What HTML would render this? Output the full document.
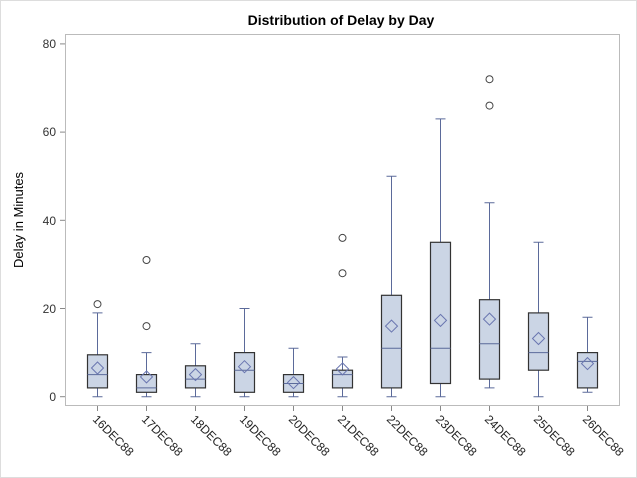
<!DOCTYPE html>
<html><head><style>body{margin:0;background:#fff}svg{display:block}</style></head><body>
<svg width="637" height="478" xmlns="http://www.w3.org/2000/svg" font-family="Liberation Sans, sans-serif">
<defs><style>.w{stroke:#5b6a9a;fill:none}.b{fill:#cbd5e5;stroke:#333;stroke-width:1.2}.m{fill:none;stroke:#6a76b0}.o{fill:none;stroke:#444}.t{stroke:#888}</style></defs>
<rect x="0.5" y="0.5" width="636" height="477" fill="#fff" stroke="#ddd"/>
<text x="341" y="25" text-anchor="middle" font-size="14" font-weight="bold">Distribution of Delay by Day</text>
<rect x="65.5" y="34.5" width="554" height="371" fill="none" stroke="#bbb"/>
<g font-size="12" fill="#333" text-anchor="end">
<text x="56" y="401">0</text><text x="56" y="313">20</text><text x="56" y="225">40</text><text x="56" y="136">60</text><text x="56" y="48">80</text>
</g>
<g stroke="#888"><line x1="60" x2="65" y1="396.7" y2="396.7"/><line x1="60" x2="65" y1="308.5" y2="308.5"/><line x1="60" x2="65" y1="220.3" y2="220.3"/><line x1="60" x2="65" y1="132.1" y2="132.1"/><line x1="60" x2="65" y1="43.9" y2="43.9"/></g>
<text transform="translate(23,220) rotate(-90)" text-anchor="middle" font-size="13">Delay in Minutes</text>

<!-- 16 -->
<g transform="translate(97.5,0)"><path class="w" d="M0 396.7V387.9M0 312.9V354.8M-5 396.7H5M-5 312.9H5"/><rect class="b" x="-10" y="354.8" width="20" height="33.1"/><path class="w" d="M-10 374.6H10"/><path class="m" d="M0 362L6 368L0 374L-6 368Z"/><circle class="o" cx="0" cy="304.1" r="3.5"/></g>
<!-- 17 -->
<g transform="translate(146.5,0)"><path class="w" d="M0 396.7V392.3M0 352.6V374.6M-5 396.7H5M-5 352.6H5"/><rect class="b" x="-10" y="374.6" width="20" height="17.7"/><path class="w" d="M-10 387.9H10"/><path class="m" d="M0 370.9L6 376.9L0 382.9L-6 376.9Z"/><circle class="o" cx="0" cy="326.1" r="3.5"/><circle class="o" cx="0" cy="260" r="3.5"/></g>
<!-- 18 -->
<g transform="translate(195.5,0)"><path class="w" d="M0 396.7V387.9M0 343.8V365.8M-5 396.7H5M-5 343.8H5"/><rect class="b" x="-10" y="365.8" width="20" height="22.1"/><path class="w" d="M-10 379.1H10"/><path class="m" d="M0 368.6L6 374.6L0 380.6L-6 374.6Z"/></g>
<!-- 19 -->
<g transform="translate(244.5,0)"><path class="w" d="M0 396.7V392.3M0 308.5V352.6M-5 396.7H5M-5 308.5H5"/><rect class="b" x="-10" y="352.6" width="20" height="39.7"/><path class="w" d="M-10 370.2H10"/><path class="m" d="M0 360.7L6 366.7L0 372.7L-6 366.7Z"/></g>
<!-- 20 -->
<g transform="translate(293.5,0)"><path class="w" d="M0 396.7V392.3M0 348.2V374.6M-5 396.7H5M-5 348.2H5"/><rect class="b" x="-10" y="374.6" width="20" height="17.7"/><path class="w" d="M-10 383.5H10"/><path class="m" d="M0 376.6L6 382.6L0 388.6L-6 382.6Z"/></g>
<!-- 21 -->
<g transform="translate(342.5,0)"><path class="w" d="M0 396.7V387.9M0 357V370.2M-5 396.7H5M-5 357H5"/><rect class="b" x="-10" y="370.2" width="20" height="17.7"/><path class="w" d="M-10 374.6H10"/><path class="m" d="M0 362.9L6 368.9L0 374.9L-6 368.9Z"/><circle class="o" cx="0" cy="273.2" r="3.5"/><circle class="o" cx="0" cy="237.9" r="3.5"/></g>
<!-- 22 -->
<g transform="translate(391.5,0)"><path class="w" d="M0 396.7V387.9M0 176.2V295.3M-5 396.7H5M-5 176.2H5"/><rect class="b" x="-10" y="295.3" width="20" height="92.6"/><path class="w" d="M-10 348.2H10"/><path class="m" d="M0 320.1L6 326.1L0 332.1L-6 326.1Z"/></g>
<!-- 23 -->
<g transform="translate(440.5,0)"><path class="w" d="M0 396.7V383.5M0 118.9V242.3M-5 396.7H5M-5 118.9H5"/><rect class="b" x="-10" y="242.3" width="20" height="141.2"/><path class="w" d="M-10 348.2H10"/><path class="m" d="M0 314.4L6 320.4L0 326.4L-6 320.4Z"/></g>
<!-- 24 -->
<g transform="translate(489.5,0)"><path class="w" d="M0 387.9V379.1M0 202.7V299.7M-5 387.9H5M-5 202.7H5"/><rect class="b" x="-10" y="299.7" width="20" height="79.4"/><path class="w" d="M-10 343.8H10"/><path class="m" d="M0 313.1L6 319.1L0 325.1L-6 319.1Z"/><circle class="o" cx="0" cy="105.6" r="3.5"/><circle class="o" cx="0" cy="79.2" r="3.5"/></g>
<!-- 25 -->
<g transform="translate(538.5,0)"><path class="w" d="M0 396.7V370.2M0 242.3V312.9M-5 396.7H5M-5 242.3H5"/><rect class="b" x="-10" y="312.9" width="20" height="57.3"/><path class="w" d="M-10 352.6H10"/><path class="m" d="M0 332.5L6 338.5L0 344.5L-6 338.5Z"/></g>
<!-- 26 -->
<g transform="translate(587.5,0)"><path class="w" d="M0 392.3V387.9M0 317.3V352.6M-5 392.3H5M-5 317.3H5"/><rect class="b" x="-10" y="352.6" width="20" height="35.3"/><path class="w" d="M-10 361.4H10"/><path class="m" d="M0 357.6L6 363.6L0 369.6L-6 363.6Z"/></g>

<g class="t"><path d="M97.5 406V411M146.5 406V411M195.5 406V411M244.5 406V411M293.5 406V411M342.5 406V411M391.5 406V411M440.5 406V411M489.5 406V411M538.5 406V411M587.5 406V411"/></g>
<g font-size="12" fill="#222">
<text transform="translate(92,420) rotate(45)">16DEC88</text>
<text transform="translate(141,420) rotate(45)">17DEC88</text>
<text transform="translate(190,420) rotate(45)">18DEC88</text>
<text transform="translate(239,420) rotate(45)">19DEC88</text>
<text transform="translate(288,420) rotate(45)">20DEC88</text>
<text transform="translate(337,420) rotate(45)">21DEC88</text>
<text transform="translate(386,420) rotate(45)">22DEC88</text>
<text transform="translate(435,420) rotate(45)">23DEC88</text>
<text transform="translate(484,420) rotate(45)">24DEC88</text>
<text transform="translate(533,420) rotate(45)">25DEC88</text>
<text transform="translate(582,420) rotate(45)">26DEC88</text>
</g>
</svg>
</body></html>
